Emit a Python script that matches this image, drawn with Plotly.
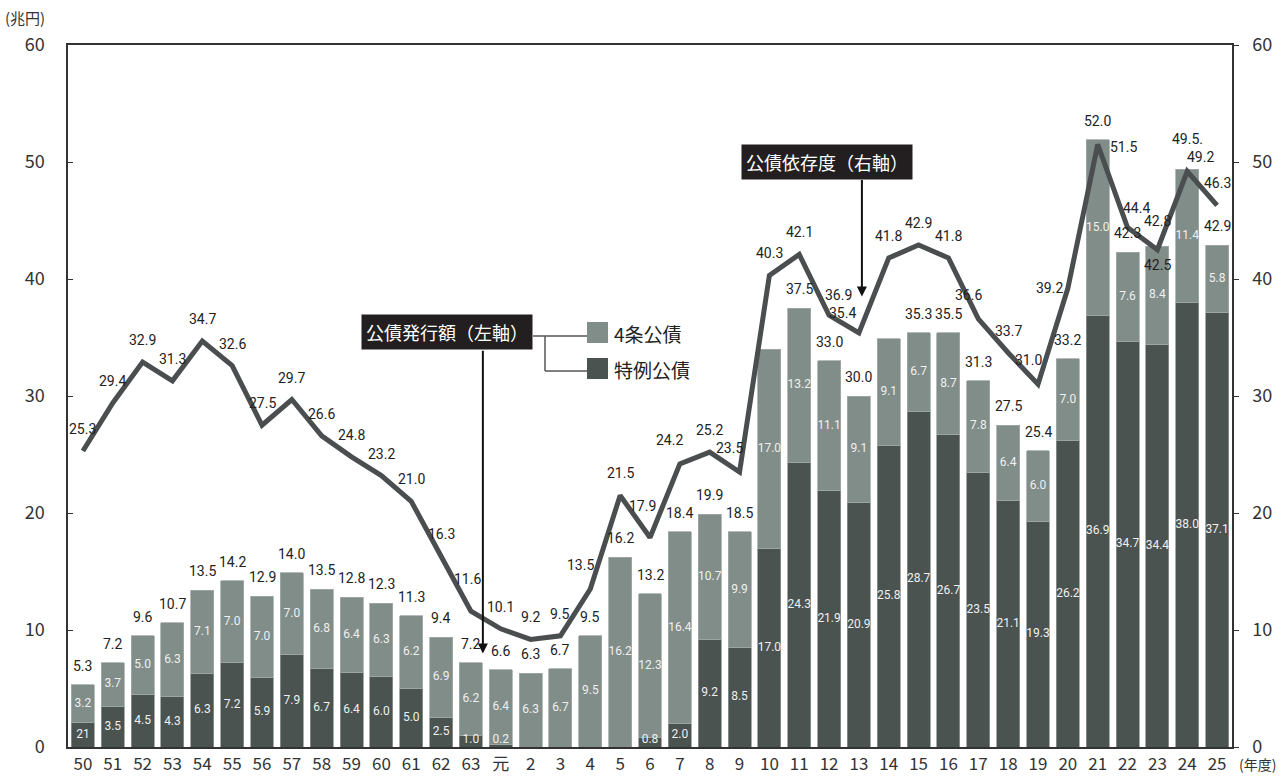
import plotly.graph_objects as go

# ---------------- data ----------------
years = ["50", "51", "52", "53", "54", "55", "56", "57", "58", "59", "60", "61", "62", "63",
         "元", "2", "3", "4", "5", "6", "7", "8", "9", "10", "11", "12", "13", "14", "15",
         "16", "17", "18", "19", "20", "21", "22", "23", "24", "25"]

# 4条公債 (construction bonds), 兆円
bonds_art4 = [3.2, 3.7, 5.0, 6.3, 7.1, 7.0, 7.0, 7.0, 6.8, 6.4, 6.3, 6.2, 6.9, 6.2,
              6.4, 6.3, 6.7, 9.5, 16.2, 12.3, 16.4, 10.7, 9.9, 17.0, 13.2, 11.1, 9.1, 9.1, 6.7,
              8.7, 7.8, 6.4, 6.0, 7.0, 15.0, 7.6, 8.4, 11.4, 5.8]

# 特例公債 (deficit-financing bonds), 兆円
bonds_special = [2.1, 3.5, 4.5, 4.3, 6.3, 7.2, 5.9, 7.9, 6.7, 6.4, 6.0, 5.0, 2.5, 1.0,
                 0.2, 0.0, 0.0, 0.0, 0.0, 0.8, 2.0, 9.2, 8.5, 17.0, 24.3, 21.9, 20.9, 25.8, 28.7,
                 26.7, 23.5, 21.1, 19.3, 26.2, 36.9, 34.7, 34.4, 38.0, 37.1]

# 公債発行額 total labels (None = not labelled in the source)
bond_totals = [5.3, 7.2, 9.6, 10.7, 13.5, 14.2, 12.9, 14.0, 13.5, 12.8, 12.3, 11.3, 9.4, 7.2,
               6.6, 6.3, 6.7, 9.5, 16.2, 13.2, 18.4, 19.9, 18.5, None, 37.5, 33.0, 30.0, None, 35.3,
               35.5, 31.3, 27.5, 25.4, 33.2, 52.0, 42.3, 42.8, 49.5, 42.9]

# 公債依存度 (%)
dependency = [25.3, 29.4, 32.9, 31.3, 34.7, 32.6, 27.5, 29.7, 26.6, 24.8, 23.2, 21.0, 16.3, 11.6,
              10.1, 9.2, 9.5, 13.5, 21.5, 17.9, 24.2, 25.2, 23.5, 40.3, 42.1, 36.9, 35.4, 41.8, 42.9,
              41.8, 36.6, 33.7, 31.0, 39.2, 51.5, 44.4, 42.5, 49.2, 46.3]

# label text quirks exactly as printed in the source
special_text_override = {"50": "21"}
total_text_override = {"24": "49.5."}

# ---------------- style ----------------
LIGHT = "#818d88"
DARK = "#4a5350"
LINE = "#4a4e4f"
TXT = "#222222"
NARROW = "Roboto, Liberation Sans Narrow, sans-serif"
JP = "Noto Sans CJK JP, Noto Sans, sans-serif"

L, R, T, B = 68, 52, 45, 29
W, H = 1284, 776
PW, PH = W - L - R, H - T - B


def px(xp):
    return (xp - L) / PW


def py(yp):
    return (H - B - yp) / PH


x = list(range(len(years)))

fig = go.Figure()
fig.add_bar(x=x, y=bonds_special, name="特例公債", marker=dict(color=DARK, line=dict(color="#8d9692", width=0.8)),
            hoverinfo="skip")
fig.add_bar(x=x, y=bonds_art4, name="4条公債", marker=dict(color=LIGHT, line=dict(color="#a3aba7", width=0.8)),
            hoverinfo="skip")

# segment labels (centred in each segment)
sp_y, sp_t = [], []
for yr, v in zip(years, bonds_special):
    sp_y.append(max(v / 2, 0.6))
    sp_t.append(special_text_override.get(yr, f"{v:.1f}") if v > 0 else "")
a4_y = [s + a / 2 for s, a in zip(bonds_special, bonds_art4)]
a4_t = [f"{a:.1f}" for a in bonds_art4]
fig.add_scatter(x=x, y=sp_y, text=sp_t, mode="text", textposition="middle center",
                textfont=dict(family=NARROW, size=12, color="#f0f0f0"), hoverinfo="skip")
fig.add_scatter(x=x, y=a4_y, text=a4_t, mode="text", textposition="middle center",
                textfont=dict(family=NARROW, size=12, color="#f0f0f0"), hoverinfo="skip")

# dependency line
fig.add_scatter(x=x, y=dependency, yaxis="y2", mode="lines",
                line=dict(color=LINE, width=5), hoverinfo="skip")

annotations = []

# bar total labels
total_shift = {"23": 25, "24": 30}
for i, (yr, tv) in enumerate(zip(years, bond_totals)):
    if tv is None:
        continue
    top = bonds_special[i] + bonds_art4[i]
    annotations.append(dict(x=i, y=top, xref="x", yref="y", showarrow=False,
                            text=total_text_override.get(yr, f"{tv:.1f}"),
                            xanchor="center", yanchor="middle", yshift=total_shift.get(yr, 19),
                            font=dict(family=NARROW, size=14, color=TXT)))

# dependency labels
pos_code = {"tc": (0, 22), "tl": (-10, 24), "tr": (9, 20), "ml": (-18, 0), "mr": (26, -3), "bc": (0, -15),
            "tl2": (-16, 20), "tr2": (13, 14), "tl3": (-8, 32), "tc2": (-3, 32)}
line_pos = {"4": "tl", "6": "tl3", "7": "tl", "9": "tl", "12": "tr", "13": "tl2", "17": "tl", "19": "tl",
            "20": "ml", "21": "mr", "22": "tr", "23": "bc", "24": "tr2", "63": "tc2"}
for i, (yr, dv) in enumerate(zip(years, dependency)):
    dx, dy = pos_code[line_pos.get(yr, "tc")]
    annotations.append(dict(x=i, y=dv, xref="x", yref="y2", showarrow=False, text=f"{dv:.1f}",
                            xanchor="center", yanchor="middle", xshift=dx, yshift=dy,
                            font=dict(family=NARROW, size=14, color=TXT)))

# callout boxes
annotations.append(dict(x=px(446.5), y=py(332), xref="paper", yref="paper", showarrow=False,
                        text="公債発行額（左軸）", bgcolor="#231f20", borderpad=4,
                        font=dict(family=JP, size=18, color="white"), xanchor="center", yanchor="middle"))
annotations.append(dict(x=px(826.5), y=py(161.5), xref="paper", yref="paper", showarrow=False,
                        text="公債依存度（右軸）", bgcolor="#231f20", borderpad=4,
                        font=dict(family=JP, size=18, color="white"), xanchor="center", yanchor="middle"))
# arrows
annotations.append(dict(x=13.4, y=8.0, ax=13.4, ay=34.0, xref="x", yref="y", axref="x", ayref="y",
                        text="", showarrow=True, arrowhead=2, arrowsize=1, arrowwidth=2,
                        arrowcolor="#111111", standoff=0))
annotations.append(dict(x=26.1, y=38.5, ax=26.1, ay=48.6, xref="x", yref="y2", axref="x", ayref="y2",
                        text="", showarrow=True, arrowhead=2, arrowsize=1, arrowwidth=2,
                        arrowcolor="#111111", standoff=0))

# legend texts
annotations.append(dict(x=px(612), y=py(333), xref="paper", yref="paper", showarrow=False, text="4条公債",
                        xanchor="left", yanchor="middle", font=dict(family=JP, size=19, color=TXT)))
annotations.append(dict(x=px(612), y=py(369), xref="paper", yref="paper", showarrow=False, text="特例公債",
                        xanchor="left", yanchor="middle", font=dict(family=JP, size=19, color=TXT)))

# unit labels
annotations.append(dict(x=px(3), y=py(18), xref="paper", yref="paper", showarrow=False, text="(兆円)",
                        xanchor="left", yanchor="middle", font=dict(family=JP, size=15, color="#333")))
annotations.append(dict(x=px(1238), y=py(775), xref="paper", yref="paper", showarrow=False, text="(年度)",
                        xanchor="left", yanchor="bottom", borderpad=0,
                        font=dict(family=JP, size=14, color="#333")))

shapes = [
    dict(type="line", xref="paper", yref="paper", x0=px(533), y0=py(336), x1=px(587), y1=py(336),
         line=dict(color="#555", width=1.5)),
    dict(type="line", xref="paper", yref="paper", x0=px(545), y0=py(336), x1=px(545), y1=py(371),
         line=dict(color="#555", width=1.5)),
    dict(type="line", xref="paper", yref="paper", x0=px(545), y0=py(371), x1=px(587), y1=py(371),
         line=dict(color="#555", width=1.5)),
    dict(type="rect", xref="paper", yref="paper", x0=px(587), y0=py(322), x1=px(608), y1=py(343),
         fillcolor=LIGHT, line=dict(width=0)),
    dict(type="rect", xref="paper", yref="paper", x0=px(587), y0=py(358), x1=px(608), y1=py(379),
         fillcolor=DARK, line=dict(width=0)),
]

fig.update_layout(
    width=W, height=H,
    margin=dict(l=L, r=R, t=T, b=B, pad=0),
    paper_bgcolor="white", plot_bgcolor="white",
    barmode="stack", bargap=0.23,
    showlegend=False,
    font=dict(family=JP, color="#333"),
    xaxis=dict(range=[-0.5, len(years) - 0.5], tickvals=x, ticktext=years, showline=True,
               linecolor="#333", linewidth=1.5, mirror=True, ticks="", showgrid=False, zeroline=False,
               tickfont=dict(family=JP, size=17, color="#333"), automargin=False, fixedrange=True,
               ticklabelstandoff=1),
    yaxis=dict(range=[0, 60], dtick=10, showline=True, linecolor="#333", linewidth=1.5,
               ticks="inside", ticklen=5, tickcolor="#333", showgrid=False, zeroline=False,
               tickfont=dict(family=JP, size=18, color="#333"), automargin=False, ticklabelstandoff=18),
    yaxis2=dict(range=[0, 60], dtick=10, overlaying="y", side="right", showline=True, linecolor="#333",
                linewidth=1.5, ticks="outside", ticklen=5, tickcolor="#333", showgrid=False, zeroline=False,
                tickfont=dict(family=JP, size=18, color="#333"), automargin=False, ticklabelstandoff=10),
    annotations=annotations,
    shapes=shapes,
)

fig.write_html("out.html")
